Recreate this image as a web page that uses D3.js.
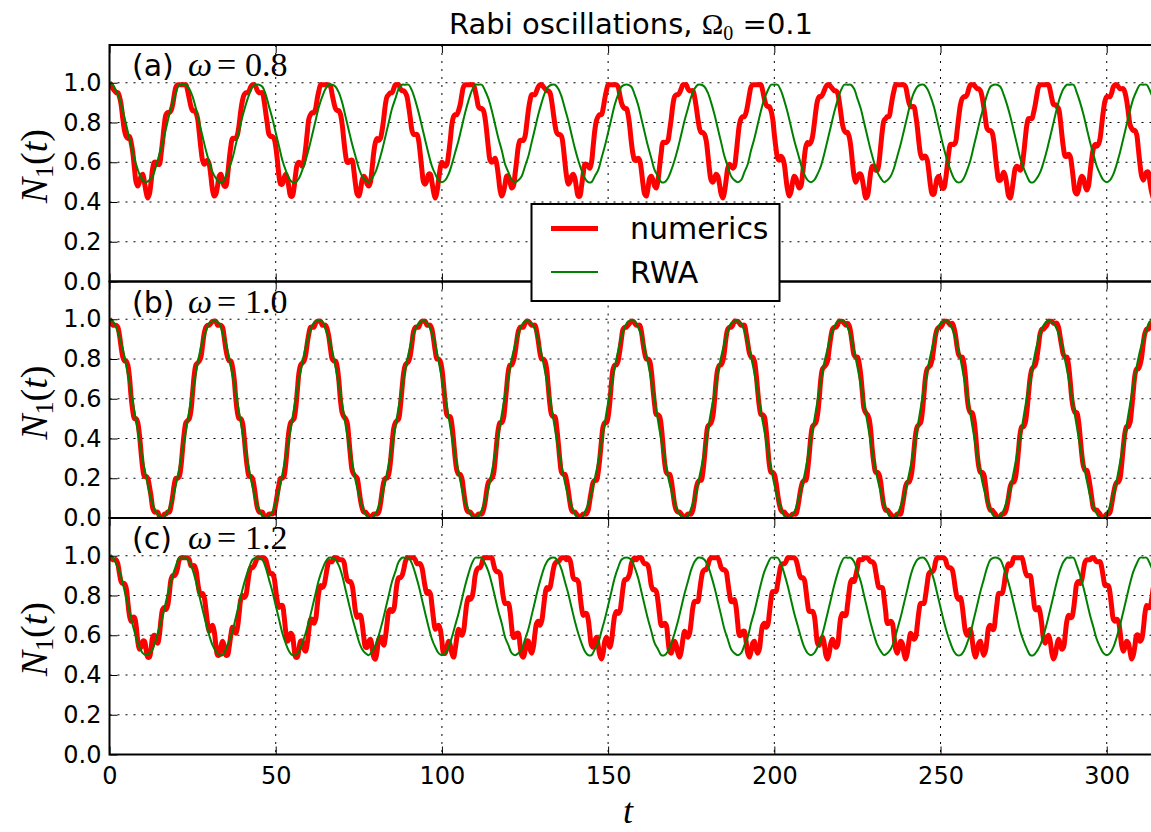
<!DOCTYPE html>
<html><head><meta charset="utf-8">
<script src="https://cdn.jsdelivr.net/npm/d3@7"></script>
<style>body{margin:0;background:#fff}</style></head>
<body><svg id="c" width="1151" height="832"></svg>
<script>
// N1(t) in percent. numerics sampled every 0.5 in t, RWA sampled every 1.0 in t.
const tStepNumerics = 0.5, tStepRWA = 1.0;
const tMax = 314.16;
const xTicks = [0, 50, 100, 150, 200, 250, 300];
const yTicks = [0, 20, 40, 60, 80, 100];
const yTickLabels = ['0.0', '0.2', '0.4', '0.6', '0.8', '1.0'];
const panelLetters = ['(a)', '(b)', '(c)'];
const omegaLabels = ['0.8', '1.0', '1.2'];
const seriesNames = ['numerics', 'RWA'];

const numericsA = [100,99,97,96,95,95,93,89,82,76,73,72,73,70,65,57,50,48,50,53,54,50,45,42,44,50,57,60,60,59,59,64,71,79,84,85,85,86,89,94,
98,99,99,99,99,99,99,96,92,88,86,86,85,82,75,67,61,59,60,61,59,53,46,43,44,48,53,54,51,48,48,53,61,68,72,72,72,74,79,86,
91,94,95,95,96,98,99,99,98,96,95,95,95,91,85,79,74,73,73,72,68,61,53,49,49,52,54,52,47,43,43,47,54,59,60,59,58,61,67,75,
82,84,85,85,87,92,96,99,99,99,99,99,99,98,94,90,87,86,86,84,79,71,64,60,60,61,61,56,49,44,43,46,51,53,52,49,48,50,57,65,
70,72,71,72,76,82,89,93,94,95,95,97,99,99,99,97,96,96,95,93,88,82,76,74,74,74,71,64,56,50,49,51,54,54,50,45,42,45,51,57,
60,59,58,59,64,71,79,83,84,84,86,89,94,98,99,99,99,99,99,99,96,92,88,87,87,86,82,75,67,61,60,61,62,59,53,46,43,45,49,53,
53,50,47,48,54,61,68,71,71,71,73,79,86,91,94,94,94,96,98,99,99,98,97,96,96,95,91,85,79,75,74,74,73,68,60,53,49,50,53,54,
52,47,43,43,48,54,59,59,58,57,60,68,76,81,83,84,84,87,92,96,99,99,99,99,99,99,98,94,90,88,87,87,84,78,70,64,61,61,62,61,
56,49,44,43,47,52,53,51,48,47,51,58,65,70,70,70,71,76,82,89,93,94,94,95,97,99,99,99,97,96,96,96,93,88,82,77,75,75,74,71,
64,56,51,50,52,54,53,49,44,42,45,51,57,59,58,57,58,64,72,79,82,83,83,85,89,94,98,99,99,99,99,99,99,96,92,89,88,88,86,82,
74,67,62,61,63,62,59,52,46,43,45,50,53,52,49,47,48,54,62,68,70,69,70,73,79,86,91,93,93,94,96,98,99,99,98,97,96,96,95,91,
85,79,76,75,75,73,68,60,53,50,52,54,54,51,46,42,43,48,55,58,58,56,56,60,68,76,81,82,83,83,87,92,96,99,99,99,99,99,99,98,
94,90,88,88,88,84,78,70,64,62,63,63,61,55,48,44,44,48,52,53,50,47,47,51,58,65,69,69,69,70,76,83,89,92,93,93,94,97,99,99,
99,98,97,97,96,93,88,82,77,76,76,75,71,63,56,51,51,53,55,53,48,43,42,46,52,57,58,57,56,58,64,72,79,82,82,82,85,89,94,98,
99,99,99,99,99,99,96,92,89,89,88,87,82,74,67,63,63,64,63,58,51,45,44,46,51,53,52,48,46,48,55,62,67,69,68,69,72,79,86,91,
93,93,93,95,98,99,99,98,97,97,97,95,91,85,79,77,76,76,74,67,59,53,51,53,55,55,50,45,42];

const numericsB = [100,99,97,97,97,96,92,86,81,79,79,77,71,61,54,50,50,48,42,33,25,21,21,20,16,11,5,3,3,3,1,0,0,2,2,3,3,6,11,17,
20,20,21,26,35,43,48,49,50,54,63,72,77,78,79,81,87,93,96,97,97,98,99,99,99,97,97,97,96,91,85,81,79,79,76,70,60,53,50,50,
48,41,32,25,21,21,20,16,10,5,3,3,3,1,0,1,2,2,2,3,7,12,17,20,20,21,27,36,44,48,49,50,55,64,73,77,78,79,82,88,
93,96,96,96,98,99,99,99,97,97,97,95,91,85,80,79,79,76,69,59,53,51,50,48,40,31,24,22,21,20,15,9,5,3,3,2,1,0,1,2,
2,2,3,7,13,18,20,20,22,28,37,45,48,49,50,56,65,73,77,78,79,82,88,94,96,96,96,98,99,99,99,97,97,97,95,90,84,80,80,79,
75,67,58,52,51,51,47,39,30,24,22,22,20,14,8,4,3,3,2,1,0,1,2,2,2,4,8,14,18,19,20,22,29,38,45,48,48,50,57,66,
74,77,77,79,83,89,94,96,96,96,98,99,99,98,97,97,97,94,89,83,80,80,79,75,66,57,52,51,51,46,38,29,23,22,22,19,14,8,4,3,
3,2,1,0,1,2,2,2,4,9,14,18,19,19,23,30,39,46,48,48,51,58,68,75,77,77,79,84,90,95,96,96,97,98,99,99,98,97,97,97,
94,88,83,80,80,79,74,65,57,52,52,51,46,37,28,23,22,22,19,13,7,4,3,3,2,1,0,1,2,2,2,4,9,15,18,19,19,23,31,40,
46,47,48,51,59,69,75,77,77,79,84,91,95,96,96,97,99,99,99,98,97,97,97,93,88,83,81,81,79,73,64,56,52,52,51,45,36,27,23,23,
22,18,12,7,4,3,3,2,1,0,1,2,2,2,5,10,15,18,19,19,24,32,41,46,47,48,52,60,70,75,76,77,79,85,91,95,96,96,97,99,
99,99,98,97,98,97,93,87,82,81,81,78,72,63,55,53,52,50,44,34,27,23,23,22,18,11,6,4,4,3,2,1,0,1,2,2,2,6,11,16,
18,18,20,25,34,42,46,47,48,53,62,71,75,76,77,80,86,92,95,96,96,97,99,99,99,98,97,98,96,92,86,82,81,81,78,71,61,55,53,53,
50,43,33,26,23,23,22,17,10,6,4,4,3,2,0,0,1,2,2,3,6,11,16,18,18,20,26,35,43,46,46,48,54,63,71,75,76,77,81,87,
93,95,95,96,97,99,99,99,98,98,98,96,91,86,82,81,81,77,69,60,55,53,53,49,41,32,26,24,24,21,16,10,5,4,4,3,2,0,0,1,
2,2,3,7,12,16,18,18,20,27,36,43,46,46,48,55,64,72,75,75,77,81,88,93,95,95,96,98,99];

const numericsC = [100,99,98,98,98,96,91,87,86,86,84,77,70,67,69,69,65,57,53,54,57,57,53,49,49,53,59,60,58,56,60,68,73,74,73,75,81,88,90,90,
91,94,98,99,99,99,99,99,98,95,95,95,93,87,82,80,81,79,73,66,62,63,65,62,55,50,50,54,57,55,50,50,54,60,64,62,61,64,71,78,
80,79,80,85,91,94,94,95,97,99,99,99,99,99,98,95,92,91,91,89,83,77,74,75,75,70,62,57,58,61,60,54,49,49,53,57,57,53,52,56,
63,68,68,66,68,75,82,85,84,85,89,94,97,97,97,99,99,99,98,98,98,97,92,88,87,87,85,79,72,69,70,70,66,59,54,54,57,58,54,49,
48,52,58,59,57,55,59,66,72,73,72,73,79,86,89,89,90,93,97,99,99,99,99,99,98,96,96,96,94,89,84,81,82,81,75,68,63,64,65,63,
57,51,51,54,57,55,51,49,53,59,63,62,60,62,69,76,79,78,79,83,90,93,94,94,96,99,99,99,99,99,99,96,93,92,92,91,85,79,76,76,
76,72,64,59,59,61,61,55,50,49,52,57,57,53,51,54,61,66,67,65,67,73,80,84,83,84,88,93,96,97,97,98,99,99,99,98,99,98,94,89,
88,88,87,81,74,70,71,71,68,61,55,54,57,59,55,50,48,51,57,59,57,54,57,64,70,72,71,72,77,84,88,88,89,91,96,98,99,98,99,99,
99,97,96,96,95,91,85,83,83,82,77,70,65,65,66,65,58,52,51,54,57,55,51,49,52,58,62,61,59,61,67,74,77,77,77,82,88,92,93,93,
95,98,99,99,99,99,99,97,94,93,93,92,87,81,77,77,78,74,66,60,60,62,62,57,51,49,52,56,57,53,51,53,60,65,66,64,65,71,78,82,
82,82,86,91,95,96,96,97,99,99,99,99,99,98,95,91,89,89,88,83,76,72,72,72,70,63,56,55,58,59,56,50,48,51,56,58,56,54,55,62,
69,71,70,70,75,82,87,88,87,90,94,98,98,98,99,99,99,98,97,97,96,92,87,84,84,84,79,72,66,66,67,66,60,53,51,54,57,56,51,48,
51,57,61,60,58,59,65,72,76,76,76,80,86,91,92,92,93,97,99,99,99,99,99,98,95,94,94,93,89,83,79,78,79,75,68,62,60,62,63,58,
52,49,52,56,57,53,50,52,58,64,65,63,63,69,76,81,81,81,84,90,94,96,95,96,99,99,99,99,99,99,96,92,90,90,90,85,78,73,73,74,
71,65,58,56,58,60,57,51,48,50,55,58,56,53,54,60,67,70,69,69,73,80,86,87,86,88,93,97,98,98,98,99,99,98,97,97,97,94,89,85,
85,85,81,74,68,67,68,67,62,55,52,54,57,56,52,48,50,55,60,60,57,58,63,71,75,74,74,78,84];

// RWA for omega = 0.8 and omega = 1.2 (same detuning magnitude, curves coincide)
const rwaDetuned = [100,99,96,92,86,79,72,65,59,54,51,50,51,53,58,64,70,77,84,90,95,99,99,99,97,93,87,80,73,66,60,55,52,50,50,53,57,62,69,76,
83,89,94,98,99,99,98,94,88,82,75,68,61,56,52,50,50,52,56,61,67,74,81,88,93,97,99,99,98,95,90,83,76,69,63,57,53,51,50,52,
55,60,66,73,80,87,92,97,99,99,99,96,91,85,78,71,64,58,54,51,50,51,54,59,65,71,78,85,91,96,99,99,99,96,92,86,79,72,66,59,
55,51,50,51,53,58,63,70,77,84,90,95,98,99,99,97,93,87,81,74,67,61,56,52,50,50,53,56,62,68,75,82,89,94,98,99,99,98,94,89,
82,75,68,62,56,53,50,50,52,56,61,67,74,81,87,93,97,99,99,98,95,90,84,77,70,63,58,53,51,50,51,55,59,66,72,79,86,92,96,99,
99,99,96,91,85,78,71,65,59,54,51,50,51,54,58,64,71,78,85,91,96,99,99,99,97,92,87,80,73,66,60,55,52,50,51,53,57,63,69,76,
83,90,95,98,99,99,97,93,88,81,74,67,61,56,52,50,50,52,56,61,68,75,82,88,94,98,99,99,98,94,89,83,76,69,62,57,53,50,50,52,
55,60,66,73,80,87,93,97,99,99,99,95,90,84,77,70,64,58,54,51,50,51,54,59,65,72,79,86,92,96,99,99,99,96,92];

// RWA for omega = 1.0 (resonance)
const rwaResonant = [100,99,96,91,85,77,68,58,49,39,29,21,13,7,3,1,0,2,5,10,17,25,35,44,54,64,73,82,89,94,98,99,99,98,93,88,80,72,63,53,
43,33,24,16,9,4,1,0,1,3,8,14,22,31,40,50,60,70,78,86,92,97,99,99,99,95,90,84,76,67,57,47,37,28,19,12,6,2,0,0,
2,6,12,19,27,36,46,56,66,75,83,90,95,98,99,99,97,93,87,79,70,61,51,41,31,23,15,8,4,1,0,1,4,9,15,23,32,42,52,62,
71,80,87,93,97,99,99,98,95,89,82,74,65,55,45,35,26,18,11,6,2,0,0,3,7,13,20,28,38,48,58,67,76,84,91,96,99,99,99,96,
92,85,78,69,59,49,39,30,21,14,8,3,1,0,1,5,10,17,25,34,44,54,63,73,81,88,94,98,99,99,98,94,88,81,73,63,53,44,34,25,
17,10,5,1,0,1,3,8,14,21,30,40,49,59,69,78,85,92,96,99,99,99,96,91,84,76,67,58,48,38,28,20,13,7,3,0,0,2,6,11,
18,26,35,45,55,65,74,82,89,95,98,99,99,97,93,87,80,71,62,52,42,32,23,15,9,4,1,0,1,4,9,15,23,32,41,51,61,70,79,87,
93,97,99,99,98,95,90,83,75,66,56,46,36,27,19,11,6,2,0,0,2,6,12,19,28,37,47,57,67,76,84,90,95,99,99];

const panels = [
  {letter: panelLetters[0], omega: omegaLabels[0], numerics: numericsA, rwa: rwaDetuned},
  {letter: panelLetters[1], omega: omegaLabels[1], numerics: numericsB, rwa: rwaResonant},
  {letter: panelLetters[2], omega: omegaLabels[2], numerics: numericsC, rwa: rwaDetuned}
];

const svg = d3.select('#c');
const left = 109.5, right = 1153.8;
const x = d3.scaleLinear().domain([0, tMax]).range([left, right]);
const tops = [45, 281.5, 518], ph = 236.5;

panels.forEach((p, i) => {
  const top = tops[i];
  const y = d3.scaleLinear().domain([0, 119]).range([top + ph, top]);
  const g = svg.append('g');
  g.append('clipPath').attr('id', 'cp' + i).append('rect')
    .attr('x', left).attr('y', top).attr('width', right - left).attr('height', ph);
  // grid
  g.selectAll('.hg').data(yTicks.slice(1)).enter().append('line')
    .attr('x1', left).attr('x2', right).attr('y1', d => y(d)).attr('y2', d => y(d))
    .attr('stroke', '#000').attr('stroke-width', 1).attr('stroke-dasharray', '2,6');
  g.selectAll('.vg').data(xTicks.slice(1)).enter().append('line')
    .attr('x1', d => x(d)).attr('x2', d => x(d)).attr('y1', top).attr('y2', top + ph)
    .attr('stroke', '#000').attr('stroke-width', 1).attr('stroke-dasharray', '2,6');
  // curves
  const lineN = d3.line().x((d, k) => x(k * tStepNumerics)).y(d => y(d)).curve(d3.curveCatmullRom);
  const lineR = d3.line().x((d, k) => x(k * tStepRWA)).y(d => y(d)).curve(d3.curveCatmullRom);
  g.append('path').attr('d', lineN(p.numerics)).attr('fill', 'none').attr('stroke', '#ff0000')
    .attr('stroke-width', 5).attr('stroke-linejoin', 'round').attr('clip-path', 'url(#cp' + i + ')');
  g.append('path').attr('d', lineR(p.rwa)).attr('fill', 'none').attr('stroke', '#008000')
    .attr('stroke-width', 2).attr('clip-path', 'url(#cp' + i + ')');
  // axes (ticks inside)
  const ax = g.append('g').attr('transform', `translate(${left},0)`)
    .call(d3.axisLeft(y).tickValues(yTicks).tickFormat((d, k) => yTickLabels[k]).tickSize(-8).tickPadding(8));
  const axT = g.append('g').attr('transform', `translate(0,${top})`)
    .call(d3.axisTop(x).tickValues(xTicks).tickFormat('').tickSize(-8));
  const axB = g.append('g').attr('transform', `translate(0,${top + ph})`)
    .call(d3.axisBottom(x).tickValues(xTicks).tickFormat(i === 2 ? d3.format('d') : '').tickSize(-8).tickPadding(12));
  [ax, axT, axB].forEach(a => {
    a.select('.domain').remove();
    a.selectAll('line').attr('stroke', '#000').attr('stroke-width', 1);
    a.selectAll('text').attr('font-family', 'DejaVu Sans').attr('font-size', 24).attr('fill', '#000');
  });
  // frame
  g.append('rect').attr('x', left).attr('y', top).attr('width', right - left + 20).attr('height', ph)
    .attr('fill', 'none').attr('stroke', '#000').attr('stroke-width', 2);
  // panel label
  const t = g.append('text').attr('y', top + 31).attr('fill', '#000');
  t.append('tspan').attr('x', 132).attr('font-family', 'DejaVu Sans').attr('font-size', 30).text(p.letter);
  t.append('tspan').attr('x', 188).attr('font-family', 'Liberation Serif').attr('font-style', 'italic').attr('font-size', 34).text('ω');
  t.append('tspan').attr('x', 217).attr('font-family', 'Liberation Serif').attr('font-size', 34).text('=');
  t.append('tspan').attr('x', 245).attr('font-family', 'Liberation Serif').attr('font-size', 34).text(p.omega);
  // y label
  const yl = g.append('text').attr('transform', `translate(47,${top + ph / 2 + 3}) rotate(-90)`)
    .attr('text-anchor', 'middle').attr('font-size', 38).attr('font-family', 'Liberation Serif').attr('fill', '#000');
  yl.append('tspan').attr('font-style', 'italic').text('N');
  yl.append('tspan').attr('font-size', 26).attr('dy', 6).text('1');
  yl.append('tspan').attr('dy', -6).text('(');
  yl.append('tspan').attr('font-style', 'italic').text('t');
  yl.append('tspan').text(')');
});

svg.append('text').attr('x', 628).attr('y', 823).attr('text-anchor', 'middle')
  .attr('font-family', 'Liberation Serif').attr('font-style', 'italic').attr('font-size', 36).text('t');
const ti = svg.append('text').attr('x', 631).attr('y', 34).attr('text-anchor', 'middle').attr('font-size', 29);
ti.append('tspan').attr('font-family', 'DejaVu Sans').text('Rabi oscillations, ');
ti.append('tspan').attr('font-family', 'Liberation Serif').text('Ω');
ti.append('tspan').attr('font-family', 'Liberation Serif').attr('font-size', 20).attr('dy', 6).text('0');
ti.append('tspan').attr('font-family', 'DejaVu Sans').attr('dy', -6).text(' =0.1');

// legend
const lg = svg.append('g');
lg.append('rect').attr('x', 531.5).attr('y', 204).attr('width', 248).attr('height', 97)
  .attr('fill', '#fff').attr('stroke', '#000').attr('stroke-width', 2);
const legendStyles = [{c: '#ff0000', w: 5, y: 228.5, ty: 239}, {c: '#008000', w: 2, y: 272, ty: 283}];
seriesNames.forEach((n, k) => {
  const s = legendStyles[k];
  lg.append('line').attr('x1', 551).attr('x2', 598).attr('y1', s.y).attr('y2', s.y).attr('stroke', s.c).attr('stroke-width', s.w);
  lg.append('text').attr('x', 630).attr('y', s.ty).attr('font-family', 'DejaVu Sans').attr('font-size', 30).text(n);
});
</script></body></html>
